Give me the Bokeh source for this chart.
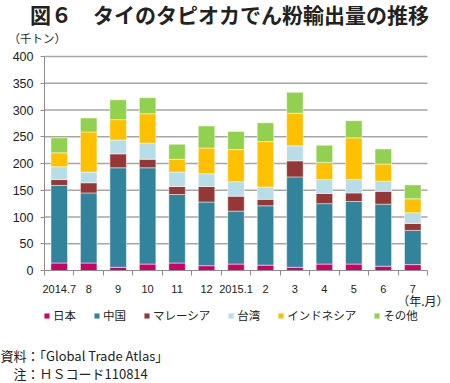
from bokeh.plotting import figure
from bokeh.models import FixedTicker, Legend, LegendItem, Range1d, ColumnDataSource, Label
from bokeh.embed import file_html
from bokeh.resources import INLINE

months = ["2014.7", "8", "9", "10", "11", "12", "2015.1", "2", "3", "4", "5", "6", "7"]
japan = [14, 14, 6, 12, 14, 9, 12, 10, 6, 12, 12, 8, 11]
china = [145, 131, 186, 180, 128, 119, 99, 111, 169, 113, 117, 116, 64]
malaysia = [11, 19, 26, 16, 15, 29, 28, 12, 30, 19, 16, 24, 13]
taiwan = [24, 20, 26, 30, 27, 24, 27, 23, 28, 26, 25, 19, 20]
indonesia = [26, 75, 38, 55, 24, 48, 60, 85, 61, 32, 78, 32, 26]
other = [28, 26, 37, 30, 28, 41, 34, 35, 39, 32, 32, 28, 26]
series_names = ["日本", "中国", "マレーシア", "台湾", "インドネシア", "その他"]
colors = ["#CC0066", "#31849B", "#953735", "#B7DEE8", "#FFC000", "#92D050"]
yticks = [0, 50, 100, 150, 200, 250, 300, 350, 400]

JP = "Noto Sans CJK JP"
NUM = "Liberation Sans"
TXT = "#222222"
AX = "#8c8c8c"

# canvas geometry (px): the plotting area sits inside a full-canvas frame
W, H = 450, 383
FL, FR, FT, FB = 44, 427, 56, 270
n = len(months)
YMAX = yticks[-1]
ppx = (FR - FL) / n
ppy = (FB - FT) / YMAX
x0, x1 = -0.5, n - 0.5
xr = Range1d(x0 - FL / ppx, x1 + (W - FR) / ppx)
yr = Range1d(-(H - FB) / ppy, YMAX + FT / ppy)


def dx(cx):
    return x0 + (cx - FL) / ppx


def dy(cy):
    return (FB - cy) / ppy


keys = ["japan", "china", "malaysia", "taiwan", "indonesia", "other"]
src = ColumnDataSource(dict(x=list(range(n)), japan=japan, china=china,
                            malaysia=malaysia, taiwan=taiwan, indonesia=indonesia, other=other))

p = figure(width=W, height=H, output_backend="svg", toolbar_location=None,
           title_location=None, x_range=xr, y_range=yr,
           min_border_left=0, min_border_right=0, min_border_top=0, min_border_bottom=0)
p.outline_line_color = None
p.background_fill_color = "white"
p.xgrid.visible = False
p.ygrid.visible = False

# horizontal grid lines at the y ticks
gl = [t for t in yticks if t > 0]
p.segment(x0=[x0] * len(gl), x1=[x1] * len(gl), y0=gl, y1=gl,
          line_color="#a6a6a6", line_width=1.5)

rs = p.vbar_stack(keys, x="x", width=0.56, color=colors, source=src,
                  line_color="white", line_width=0.8, line_alpha=0.6)

# axes, fixed at the plotting area's edges
p.yaxis.fixed_location = x0
p.yaxis.bounds = (0, YMAX)
p.yaxis.ticker = FixedTicker(ticks=yticks)
p.yaxis.axis_line_color = AX
p.yaxis.major_tick_line_color = AX
p.yaxis.major_tick_out = 4
p.yaxis.major_tick_in = 0
p.yaxis.minor_tick_line_color = None
p.yaxis.major_label_standoff = 7
p.yaxis.major_label_text_font = NUM
p.yaxis.major_label_text_font_size = "12.5px"
p.yaxis.major_label_text_color = TXT

p.xaxis.fixed_location = 0
p.xaxis.bounds = (x0, x1)
p.xaxis.ticker = FixedTicker(ticks=list(range(n)),
                             minor_ticks=[i - 0.5 for i in range(n + 1)])
p.xaxis.major_label_overrides = {i: m for i, m in enumerate(months)}
p.xaxis.axis_line_color = AX
p.xaxis.major_tick_line_color = None
p.xaxis.major_tick_out = 0
p.xaxis.major_tick_in = 0
p.xaxis.minor_tick_line_color = AX
p.xaxis.minor_tick_out = 5
p.xaxis.minor_tick_in = 0
p.xaxis.major_label_standoff = 9
p.xaxis.major_label_text_font = NUM
p.xaxis.major_label_text_font_size = "11px"
p.xaxis.major_label_text_color = TXT

legend = Legend(items=[LegendItem(label=s, renderers=[r]) for s, r in zip(series_names, rs)],
                location=(43, 60), orientation="horizontal",
                glyph_width=7, glyph_height=7, label_standoff=3, spacing=17,
                label_height=14, padding=0, margin=0, border_line_color=None,
                background_fill_alpha=0,
                label_text_font=JP, label_text_font_size="11.5px", label_text_color=TXT)
p.add_layout(legend, "center")


def lab(cx, cy, text, size, align="left", bold=False):
    p.add_layout(Label(x=dx(cx), y=dy(cy), text=text, text_font=JP,
                       text_font_size=size, text_align=align, text_baseline="middle",
                       text_font_style="bold" if bold else "normal",
                       text_color=TXT))


lab(229, 13, "図６　タイのタピオカでん粉輸出量の推移", "21px", "center", True)
lab(8, 37, "（千トン）", "11.5px")
lab(448, 300, "（年.月）", "12px", "right")
lab(0, 355, "資料：「Global Trade Atlas」", "13px")
lab(13, 373, "注：ＨＳコード110814", "13px")

open("out.html", "w").write(file_html(p, INLINE))
